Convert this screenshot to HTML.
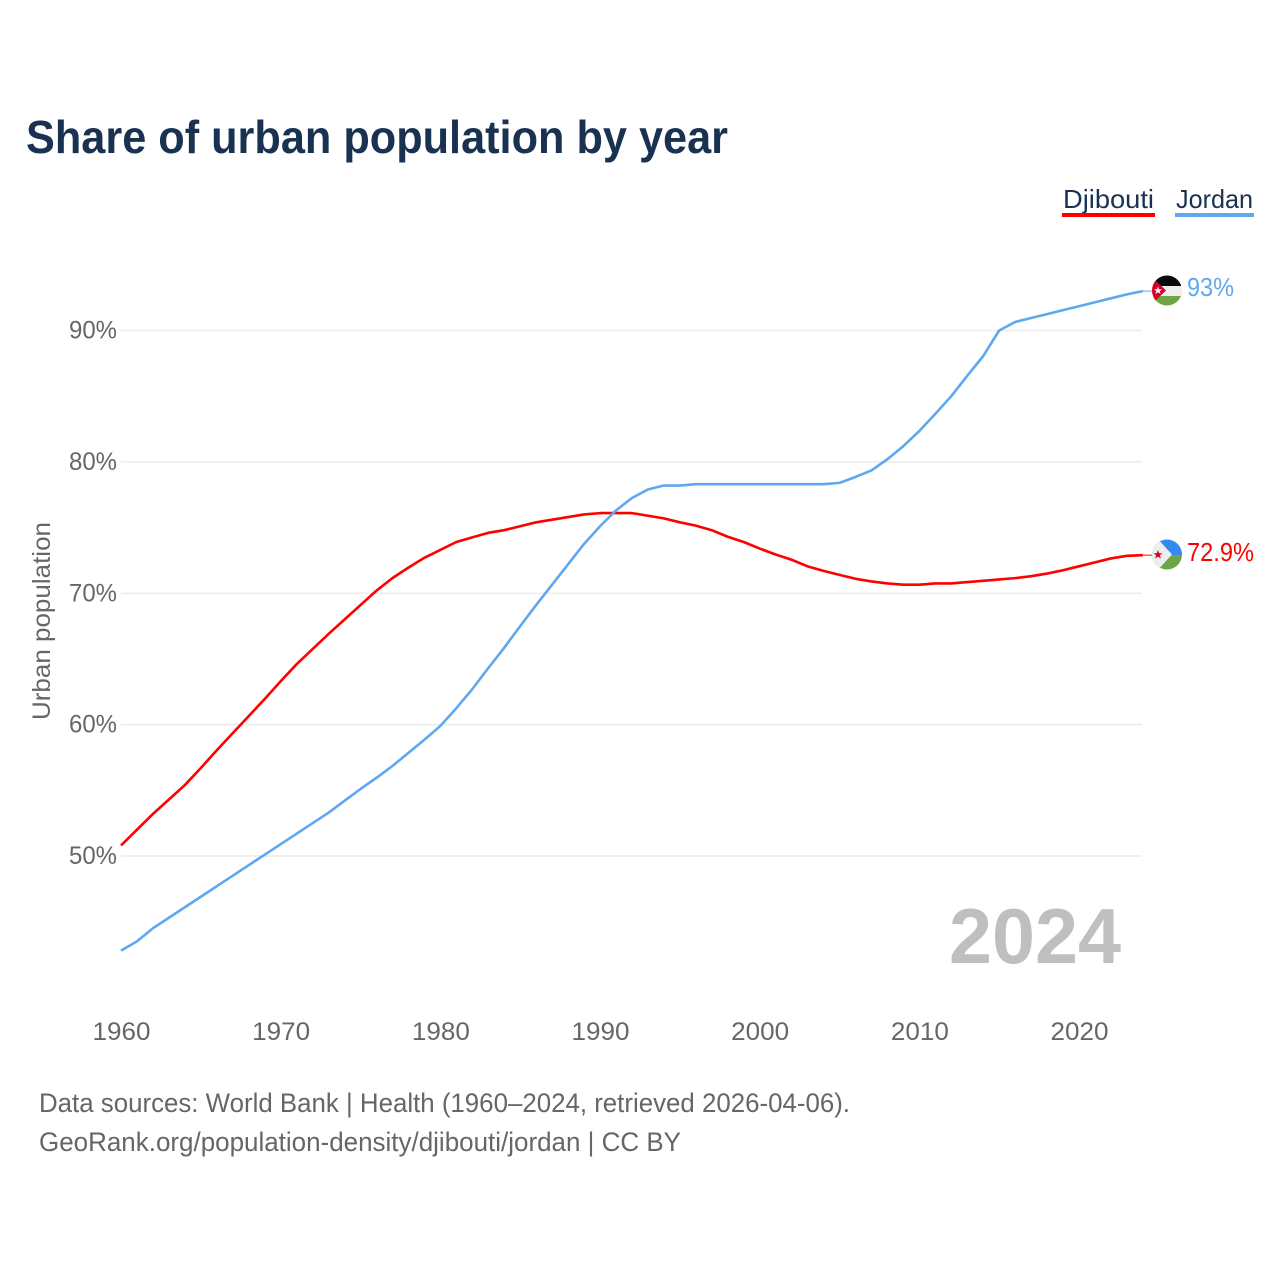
<!DOCTYPE html>
<html lang="en">
<head>
<meta charset="utf-8">
<title>Share of urban population by year</title>
<style>
html,body{margin:0;padding:0;background:#fff;}
svg{display:block;font-family:"Liberation Sans",Arial,sans-serif;}
</style>
</head>
<body>
<svg id="chart" width="1280" height="1280" viewBox="0 0 1280 1280" xmlns="http://www.w3.org/2000/svg">
  <defs>
    <clipPath id="clip-jordan"><circle cx="1167" cy="290.5" r="15"/></clipPath>
    <clipPath id="clip-djibouti"><circle cx="1167" cy="554.5" r="15"/></clipPath>
  </defs>
  <rect width="1280" height="1280" fill="#ffffff"/>
  <text x="26" y="153" font-size="46" font-weight="700" fill="#1a3252" textLength="702" lengthAdjust="spacingAndGlyphs">Share of urban population by year</text>

  <text x="1063" y="208" font-size="26" fill="#1a3252" textLength="91" lengthAdjust="spacingAndGlyphs">Djibouti</text>
  <rect x="1062" y="213" width="93" height="4" fill="#ff0000"/>
  <text x="1176" y="208" font-size="26" fill="#1a3252" textLength="77" lengthAdjust="spacingAndGlyphs">Jordan</text>
  <rect x="1175" y="213" width="79" height="4" fill="#5fa8ef"/>

  <text transform="translate(50,720) rotate(-90)" font-size="25" fill="#666666" textLength="198" lengthAdjust="spacingAndGlyphs">Urban population</text>

  <g id="grid"></g>
  <g id="y-ticks"></g>
  <g id="x-ticks"></g>

  <text x="949" y="963" font-size="78" font-weight="700" fill="#bfbfbf" textLength="172" lengthAdjust="spacingAndGlyphs">2024</text>

  <g id="series"></g>

  <g clip-path="url(#clip-jordan)">
    <rect x="1152" y="275" width="30" height="11" fill="#0a0a0a"/>
    <rect x="1152" y="286" width="30" height="10" fill="#eeeeee"/>
    <rect x="1152" y="296" width="30" height="11" fill="#6da544"/>
    <polygon points="1152,277 1152,304 1166,290.5" fill="#d80027"/>
    <polygon points="1158,286.5 1159.1,289.3 1162,289.3 1159.8,291.2 1160.6,294 1158,292.4 1155.4,294 1156.2,291.2 1154,289.3 1156.9,289.3" fill="#eeeeee"/>
  </g>
  <g clip-path="url(#clip-djibouti)">
    <rect x="1152" y="539" width="30" height="16" fill="#338af3"/>
    <rect x="1152" y="555" width="30" height="16" fill="#6da544"/>
    <polygon points="1150,537 1150,572 1156,572 1172,554.5 1156,537" fill="#eeeeee"/>
    <polygon points="1158,550 1159.2,553.2 1162.5,553.2 1159.9,555.2 1160.8,558.5 1158,556.6 1155.2,558.5 1156.1,555.2 1153.5,553.2 1156.8,553.2" fill="#d80027"/>
  </g>

  <text x="1187" y="296" font-size="26" fill="#5fa8ef" textLength="47" lengthAdjust="spacingAndGlyphs">93%</text>
  <text x="1187" y="561" font-size="26" fill="#ff0000" textLength="67" lengthAdjust="spacingAndGlyphs">72.9%</text>

  <text x="39" y="1112" font-size="27" fill="#666666" textLength="811" lengthAdjust="spacingAndGlyphs">Data sources: World Bank | Health (1960–2024, retrieved 2026-04-06).</text>
  <text x="39" y="1151" font-size="27" fill="#666666" textLength="642" lengthAdjust="spacingAndGlyphs">GeoRank.org/population-density/djibouti/jordan | CC BY</text>
</svg>
<script>
var startYear = 1960;
var xTickYears = [1960, 1970, 1980, 1990, 2000, 2010, 2020];
var yTickValues = [50, 60, 70, 80, 90];
var djiboutiValues = [50.8,52.0,53.2,54.3,55.4,56.7,58.05,59.35,60.65,61.95,63.3,64.6,65.75,66.9,68.0,69.1,70.2,71.15,71.95,72.7,73.3,73.9,74.25,74.6,74.8,75.1,75.4,75.6,75.8,76.0,76.1,76.1,76.1,75.9,75.7,75.4,75.15,74.8,74.3,73.9,73.4,72.95,72.55,72.05,71.7,71.4,71.1,70.9,70.75,70.65,70.65,70.75,70.75,70.85,70.95,71.05,71.15,71.3,71.5,71.75,72.05,72.35,72.65,72.85,72.9];
var jordanValues = [42.8,43.5,44.5,45.3,46.1,46.9,47.7,48.5,49.3,50.1,50.9,51.7,52.5,53.3,54.2,55.1,55.95,56.85,57.85,58.85,59.9,61.25,62.7,64.3,65.85,67.5,69.1,70.65,72.2,73.75,75.1,76.3,77.25,77.9,78.2,78.2,78.3,78.3,78.3,78.3,78.3,78.3,78.3,78.3,78.3,78.4,78.85,79.35,80.2,81.2,82.35,83.65,85.0,86.55,88.05,90.0,90.65,90.95,91.25,91.55,91.85,92.15,92.45,92.75,93.0];

var NS = 'http://www.w3.org/2000/svg';
function xScale(year) { return 121 + (year - 1960) * (1079 - 121) / 60; }
function yScale(v) { return 856 - (v - 50) * (856 - 330.5) / 40; }
function make(tag, attrs, parent) {
  var el = document.createElementNS(NS, tag);
  for (var k in attrs) { el.setAttribute(k, attrs[k]); }
  parent.appendChild(el);
  return el;
}
var gridG = document.getElementById('grid');
var yG = document.getElementById('y-ticks');
var xG = document.getElementById('x-ticks');
var seriesG = document.getElementById('series');

yTickValues.forEach(function (v) {
  var line = make('line', {x1: 121, x2: 1142, y1: yScale(v), y2: yScale(v), stroke: '#ececec', 'stroke-width': 1.5}, gridG);
  
  
  var t = make('text', {x: 117, y: yScale(v) + 8, 'text-anchor': 'end', 'font-size': 25, fill: '#666666', textLength: 48, lengthAdjust: 'spacingAndGlyphs'}, yG);
  t.textContent = v + '%';
  
  
});
xTickYears.forEach(function (y) {
  var t = make('text', {x: xScale(y) - 28.5, y: 1040, 'font-size': 25, fill: '#666666', textLength: 58, lengthAdjust: 'spacingAndGlyphs'}, xG);
  t.textContent = String(y);
  
  
});
function drawSeries(values, color, name) {
  var pts = values.map(function (v, i) {
    return xScale(startYear + i).toFixed(2) + ',' + yScale(v).toFixed(2);
  });
  var p = make('polyline', {points: pts.join(' '), fill: 'none', stroke: color, 'stroke-width': 2.6, 'stroke-linejoin': 'round'}, seriesG);
  
  
  var last = values[values.length - 1];
  var endX = xScale(startYear + values.length - 1);
  var tail = make('line', {x1: endX, x2: endX + 9, y1: yScale(last), y2: yScale(last), stroke: color, 'stroke-width': 1}, seriesG);
  
  
}
drawSeries(djiboutiValues, '#ff0000', 'line-djibouti');
drawSeries(jordanValues, '#5fa8ef', 'line-jordan');
</script>
</body>
</html>
